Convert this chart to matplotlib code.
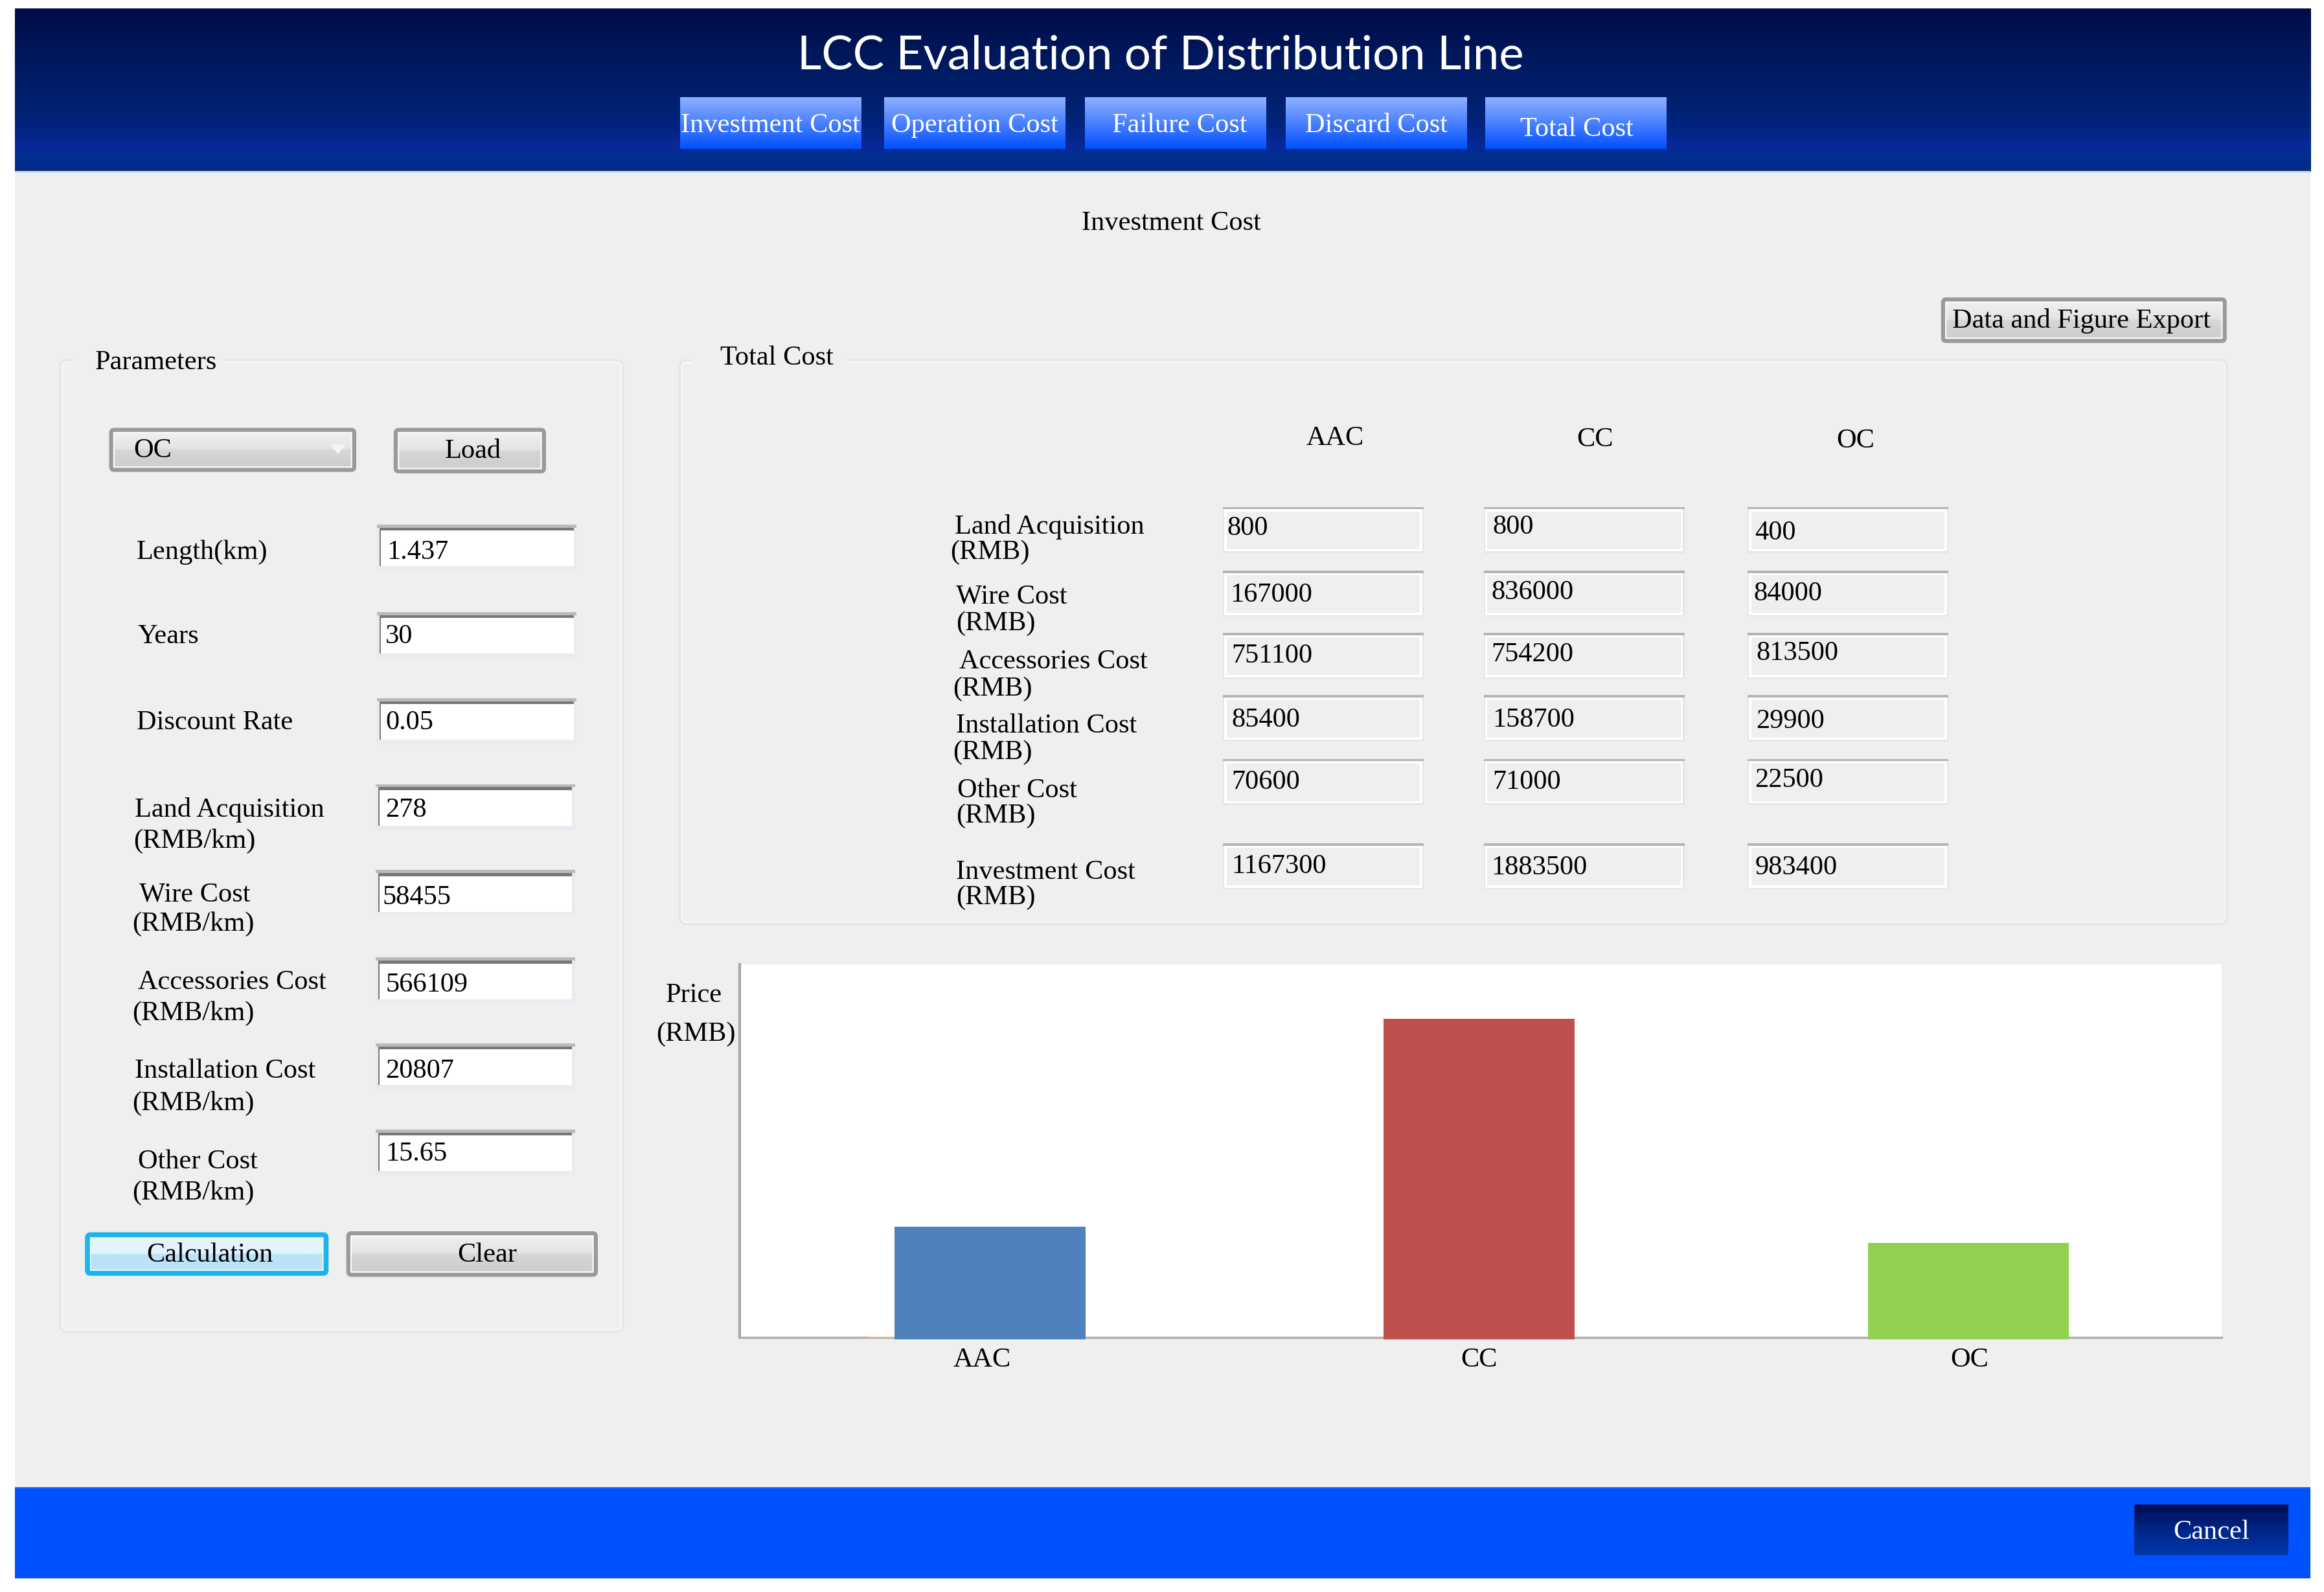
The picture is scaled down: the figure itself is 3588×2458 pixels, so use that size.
import matplotlib
matplotlib.use("Agg")
import matplotlib.pyplot as plt
import numpy as np
from matplotlib.colors import LinearSegmentedColormap
from matplotlib.patches import FancyBboxPatch, Rectangle

# window text
title = "LCC Evaluation of Distribution Line"
tab_names = ["Investment Cost", "Operation Cost", "Failure Cost", "Discard Cost", "Total Cost"]
param_labels = ["Length(km)", "Years", "Discount Rate", "Land Acquisition", "Wire Cost",
                "Accessories Cost", "Installation Cost", "Other Cost"]
param_values = ["1.437", "30", "0.05", "278", "58455", "566109", "20807", "15.65"]
row_labels = ["Land Acquisition", "Wire Cost", "Accessories Cost", "Installation Cost",
              "Other Cost", "Investment Cost"]
cable_types = ["AAC", "CC", "OC"]
aac_cost = [800, 167000, 751100, 85400, 70600, 1167300]
cc_cost = [800, 836000, 754200, 158700, 71000, 1883500]
oc_cost = [400, 84000, 813500, 29900, 22500, 983400]

# bar heights as drawn, the chart has no value scale
bar_heights = [76, 216, 65]

W, H = 1568.0, 1074.0
BG = "#efefef"
SERIF = "Liberation Serif"
FS = 30.5

fig = plt.figure(figsize=(35.88, 24.58), dpi=100, facecolor="white")
ui = fig.add_axes([0, 0, 1, 1])
ui.set_xlim(0, W)
ui.set_ylim(H, 0)
ui.axis("off")


def gradient(x0, x1, y0, y1, stops, z=1):
    cmap = LinearSegmentedColormap.from_list("g", stops)
    grad = np.linspace(0, 1, 256).reshape(-1, 1)
    ui.imshow(grad, cmap=cmap, extent=(x0, x1, y1, y0), aspect="auto", zorder=z, interpolation="bilinear")


def label(x, y, s, color="black", ha="left", size=FS, z=10):
    # text sits a bit high against the reference with va=center
    ui.text(x, y + 1.6, s, color=color, ha=ha, va="center", fontsize=size, family=SERIF, zorder=z)


def rect(x0, y0, x1, y1, color, z=2, lw=0, edge="none"):
    ui.add_patch(Rectangle((x0, y0), x1 - x0, y1 - y0, facecolor=color, edgecolor=edge, linewidth=lw, zorder=z))


def button(x0, y0, x1, y1, s, text_x=None, stops=None, edge="#9a9a9a", lw=4.5):
    if stops is None:
        stops = [(0, "#f2f2f2"), (0.48, "#e4e4e4"), (0.52, "#d6d6d6"), (1, "#cccccc")]
    gradient(x0, x1, y0, y1, stops, z=3)
    ui.add_patch(FancyBboxPatch((x0 + 1.6, y0 + 1.6), x1 - x0 - 3.2, y1 - y0 - 3.2,
                                boxstyle="round,pad=0,rounding_size=1.2",
                                facecolor="none", edgecolor="#fafafa", linewidth=2.5, zorder=4))
    ui.add_patch(FancyBboxPatch((x0, y0), x1 - x0, y1 - y0, boxstyle="round,pad=0,rounding_size=2",
                                facecolor="none", edgecolor=edge, linewidth=lw, zorder=4))
    if text_x is None:
        label((x0 + x1) / 2, (y0 + y1) / 2 - 1, s, ha="center")
    else:
        label(text_x, (y0 + y1) / 2 - 1, s)


def panel(x0, y0, x1, y1, s, text_x, text_y, gap):
    ui.add_patch(FancyBboxPatch((x0, y0), x1 - x0, y1 - y0, boxstyle="round,pad=0,rounding_size=4",
                                facecolor=BG, edgecolor="#e1e8ee", linewidth=4, zorder=2))
    ui.add_patch(FancyBboxPatch((x0 + 1, y0 + 1), x1 - x0 - 2, y1 - y0 - 2, boxstyle="round,pad=0,rounding_size=3",
                                facecolor="none", edgecolor="#f7f7f7", linewidth=2, zorder=2))
    rect(gap[0], y0 - 3, gap[1], y0 + 3, BG, z=3)
    label(text_x, text_y, s)


# window background, header and footer
rect(10, 6, 1559, 1065, BG, z=1)
gradient(10, 1559, 6, 116, [(0, "#010c47"), (0.35, "#001a60"), (0.7, "#002478"), (0.84, "#08289a"),
                            (0.92, "#00308c"), (0.97, "#002a90"), (1, "#1a2c60")], z=2)
rect(10, 115.5, 1559, 116.8, "#bfe0f5", z=3)
rect(10, 1003, 1559, 1065, "#0052ff", z=2)
rect(10, 1003, 1559, 1004, "#1e6cff", z=3)

ui.text(783, 37.5, title, color="white", ha="center", va="center", fontsize=52.2, family="Lato", zorder=10)

# tabs
tab_left = [459, 596.5, 732, 867.5, 1002]
tab_text_x = [520, 657.5, 796, 928.5, 1064]
tab_text_y = [83, 83, 83, 83, 85.5]
for x, tx, y, s in zip(tab_left, tab_text_x, tab_text_y, tab_names):
    gradient(x, x + 122, 66, 100.6, [(0, "#8fb1ff"), (0.5, "#4a80ff"), (1, "#0050ff")], z=3)
    label(tx, y, s, color="white", ha="center")

label(790.5, 149, "Investment Cost", ha="center")
button(1311, 202, 1501, 230, "Data and Figure Export", text_x=1317)

# parameters panel
panel(41, 243.5, 420, 898, "Parameters", 64, 243, (50, 150))
button(75, 290, 239, 317, "OC", text_x=90)
ui.fill([223, 233, 228], [300, 300, 306], color="#f4f4f4", zorder=5)
button(267, 290, 367, 318, "Load", text_x=300)

param_label_x = [92, 93, 92, 91, 94, 93, 91, 93]
param_label_y = [371, 428, 486, 545, 602, 661, 721, 782]
unit_x = [90, 89, 89, 89, 89]
unit_y = [566, 622, 682, 743, 803]
for x, y, s in zip(param_label_x, param_label_y, param_labels):
    label(x, y, s)
for x, y in zip(unit_x, unit_y):
    label(x, y, "(RMB/km)")

box_left = [256, 256, 256, 255, 255, 255, 255, 255]
box_top = [355, 414, 472, 530, 588, 647, 705, 763]
value_x = [261, 260, 260, 260, 258, 260, 260, 260]
value_y = [371, 428, 486, 545, 604, 663, 721, 777]
for x, y, vx, vy, s in zip(box_left, box_top, value_x, value_y, param_values):
    rect(x - 1.5, y - 1, x + 133, y + 30, "#e8ebf0", z=2)
    rect(x - 1.5, y - 1, x + 133, y + 1, "#b9b9be", z=3)
    rect(x, y + 2, x + 131, y + 27, "white", z=3)
    rect(x, y + 1, x + 131, y + 3, "#777777", z=4)
    rect(x, y + 1, x + 1, y + 27, "#777777", z=4)
    label(vx, vy, s)

calc_stops = [(0, "#e8f6fe"), (0.48, "#e2f3fd"), (0.52, "#bce2f8"), (1, "#bce2f8")]
button(59, 833, 220, 859, "Calculation", text_x=99, stops=calc_stops, edge="#1cb4ec", lw=5.5)
button(235, 832, 402, 860, "Clear", text_x=308.5)

# total cost panel
panel(459, 243.5, 1502, 623, "Total Cost", 486, 240, (467, 572))
for x, y, s in zip([901, 1076, 1252], [294, 295, 296], cable_types):
    label(x, y, s, ha="center")

row_x = [644, 645, 647, 645, 646, 645]
row_y = [354, 401, 445, 488, 532, 587]
row_unit_x = [641, 645, 643, 643, 645, 645]
row_unit_y = [371, 419, 463, 506, 549, 604]
for x, y, s in zip(row_x, row_y, row_labels):
    label(x, y, s)
for x, y in zip(row_unit_x, row_unit_y):
    label(x, y, "(RMB)")

col_left = [825, 1001, 1179]
row_top = [342, 385, 427, 469, 512, 569]
for x in col_left:
    for y in row_top:
        rect(x, y, x + 135.5, y + 31, "#e4e6ec", z=2)
        rect(x + 1, y + 1, x + 134.5, y + 30, "white", z=3)
        rect(x + 2.5, y + 3, x + 133, y + 28.5, BG, z=4)
        rect(x, y, x + 135.5, y + 1.6, "#b4b4b8", z=5)

cost_x = [[828, 830, 831, 831, 831, 831], [1007, 1006, 1006, 1007, 1007, 1006], [1184, 1183, 1185, 1185, 1184, 1184]]
cost_y = [[355, 400, 441, 484, 526, 583], [354, 398, 440, 484, 526, 584], [358, 399, 439, 485, 525, 584]]
for col, costs in enumerate([aac_cost, cc_cost, oc_cost]):
    for x, y, v in zip(cost_x[col], cost_y[col], costs):
        label(x, y, str(v))

label(468, 670, "Price", ha="center")
label(469.5, 696, "(RMB)", ha="center")

# footer button
gradient(1440, 1544, 1015, 1049, [(0, "#000b50"), (0.5, "#00268a"), (1, "#0038a8")], z=3)
label(1492, 1032, "Cancel", color="white", ha="center")

# bar chart
ax = fig.add_axes([499 / W, 1 - 902.5 / H, 1000 / W, 252 / H], zorder=5)
ax.set_facecolor("white")
ax.set_xlim(-0.512, 2.518)
ax.set_ylim(0, 252)
ax.bar(range(3), bar_heights, width=[0.39, 0.39, 0.41], bottom=-1,
       color=["#4f81bd", "#c0504d", "#92d050"], clip_on=False, zorder=3)
ax.axhline(0, xmin=0.082, xmax=0.088, color="#f0a0a0", lw=2.5, zorder=2.8)
ax.axhline(0, xmin=0.088, xmax=0.105, color="#f5dc90", lw=2.5, zorder=2.8)
ax.set_yticks([])
ax.set_xticks([-0.016, 1, 2.003], cable_types, family=SERIF, fontsize=FS)
ax.tick_params(axis="x", length=0, pad=11)
for side in ["top", "right"]:
    ax.spines[side].set_visible(False)
ax.spines["left"].set_color("#a8a8a8")
ax.spines["left"].set_linewidth(3)
ax.spines["bottom"].set_color("#b0b0b0")
ax.spines["bottom"].set_linewidth(2.5)

fig.savefig("out.png", dpi=100, facecolor="white")
